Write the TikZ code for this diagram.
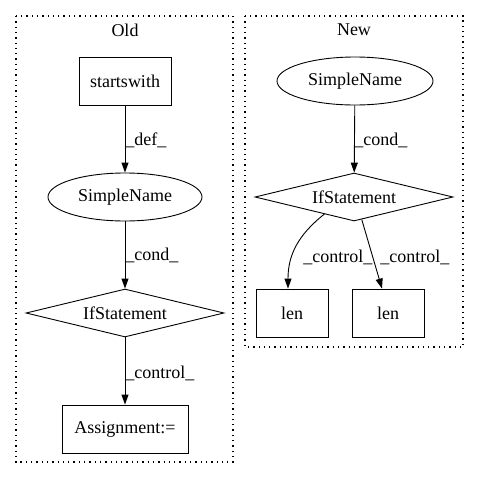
\documentclass[tikz,border=0pt]{standalone}
\usepackage{fontspec}
\setmainfont{Liberation Serif}
\usetikzlibrary{shapes.geometric,arrows.meta}
\begin{document}
\begin{tikzpicture}[x=1pt,y=-1pt,
  font=\fontsize{18}{20}\selectfont,
  line width=0.9pt,
  cluster/.style={draw, line width=1.3pt, dash pattern=on 1.3pt off 4pt},
  boxnode/.style={draw, rectangle, inner sep=0pt, minimum height=48pt},
  ellnode/.style={draw, ellipse, inner sep=0pt, minimum height=48pt},
  dianode/.style={draw, diamond, aspect=4.125, inner sep=0pt, minimum width=198pt, minimum height=48pt},
  edge/.style={-{Triangle[length=10pt,width=7pt]}},
  elabel/.style={inner sep=0pt, anchor=west}
]
\useasboundingbox (0,0) rectangle (480,480);
% clusters
\draw[cluster] (16,16) rectangle (233,462);
\draw[cluster] (245,16) rectangle (463,347);
\node (told) at (125,30) {Old};
\node (tnew) at (354,30) {New};
% Old
\node[boxnode, minimum width=92pt] (sw) at (125,81) {startswith};
\node[ellnode, minimum width=154pt] (sn1) at (125,197) {SimpleName};
\node[dianode] (if1) at (125,313) {IfStatement};
\node[boxnode, minimum width=126pt] (asg) at (125,429) {Assignment:=};
\draw[edge] (sw) -- (sn1);
\node[elabel] (l1) at (125,140) {\_def\_};
\draw[edge] (sn1) -- (if1);
\node[elabel] (l2) at (125,255) {\_cond\_};
\draw[edge] (if1) -- (asg);
\node[elabel] (l3) at (125,373) {\_control\_};
% New
\node[ellnode, minimum width=156pt] (sn2) at (355,81) {SimpleName};
\node[dianode] (if2) at (354,197) {IfStatement};
\node[boxnode, minimum width=72pt] (len1) at (292,313) {len};
\node[boxnode, minimum width=72pt] (len2) at (388,313) {len};
\draw[edge] (sn2) -- (if2);
\node[elabel] (l4) at (354,140) {\_cond\_};
\draw[edge] (if2.-150) .. controls (298,235) and (288,255) .. ([xshift=-4pt]len1.north);
\node[elabel] (l5) at (303,257) {\_control\_};
\draw[edge] (if2.-71) -- ([xshift=-6pt]len2.north);
\node[elabel] (l6) at (380,257) {\_control\_};
\end{tikzpicture}
\end{document}
